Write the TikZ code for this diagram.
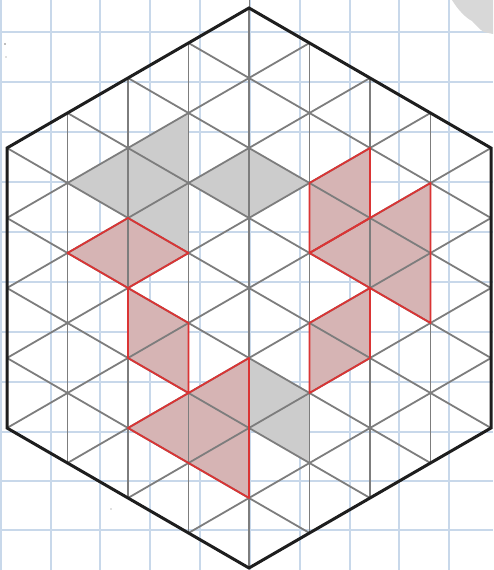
\documentclass[tikz,border=0pt]{standalone}
\definecolor{paperblue}{RGB}{200,216,234}
\definecolor{gridgrey}{RGB}{125,125,125}
\definecolor{shadegrey}{RGB}{204,204,204}
\definecolor{shadepink}{RGB}{214,180,180}
\definecolor{edgered}{RGB}{218,52,52}
\definecolor{hexblack}{RGB}{30,30,30}
\definecolor{blobgrey}{RGB}{216,216,216}
\begin{document}
\begin{tikzpicture}[x=1pt,y=1pt,
  paper/.style={draw=paperblue, line width=2.8pt},
  gridline/.style={draw=gridgrey, line width=1.8pt},
  greyfill/.style={fill=shadegrey},
  pinkfill/.style={fill=shadepink},
  redline/.style={draw=edgered, line width=1.8pt, line join=round},
  hexline/.style={draw=hexblack, line width=3pt, line join=miter}]
\useasboundingbox (0,0) rectangle (493,570);
\fill[white] (0,0) rectangle (493,570);
% graph paper
\foreach \x in {1,51,100,150,200,250,300,350,399,449}
  \draw[paper] (\x,0) -- (\x,570);
\foreach \y in {538,488,438,388,338,288,238,188,138,89,40}
  \draw[paper] (0,\y) -- (493,\y);
% grey smudge top right
\fill[blobgrey] (452,570) .. controls (458,560) and (466,552) .. (472,549)
  .. controls (476,545) and (480,540) .. (484,538) -- (493,536) -- (493,570) -- cycle;
\fill[gridgrey] (5,526) circle (0.8);
\fill[gridgrey] (6,513) circle (0.6);
\fill[gridgrey] (111,61) circle (0.6);
\begin{scope}[shift={(249pt,282pt)}, x=60.5pt, y=35pt]
  % shaded grey
  \path[greyfill] (-1,5) -- (-3,3) -- (-1,1) -- cycle;
  \path[greyfill] (-1,3) -- (0,4) -- (1,3) -- (0,2) -- cycle;
  \path[greyfill] (0,-2) -- (1,-3) -- (1,-5) -- (0,-4) -- cycle;
  % shaded pink
  \path[pinkfill] (-3,1) -- (-2,2) -- (-1,1) -- (-2,0) -- cycle;
  \path[pinkfill] (-2,0) -- (-1,-1) -- (-1,-3) -- (-2,-2) -- cycle;
  \path[pinkfill] (0,-2) -- (-2,-4) -- (0,-6) -- cycle;
  \path[pinkfill] (1,3) -- (2,4) -- (2,2) -- (1,1) -- cycle;
  \path[pinkfill] (1,1) -- (3,3) -- (3,-1) -- cycle;
  \path[pinkfill] (2,0) -- (1,-1) -- (1,-3) -- (2,-2) -- cycle;
  % triangular grid
  \begin{scope}
    \clip (0,8) -- (-4,4) -- (-4,-4) -- (0,-8) -- (4,-4) -- (4,4) -- cycle;
    \foreach \a in {-3,...,3}
      \draw[gridline] (\a,-8) -- (\a,8);
    \foreach \c in {-14,-12,...,14} {
      \draw[gridline] (-4,{-4+\c}) -- (4,{4+\c});
      \draw[gridline] (-4,{4+\c}) -- (4,{-4+\c});
    }
  \end{scope}
  \draw[gridline, line width=1pt] (0,8) -- (0,8.25);
  % red outlines
  \draw[redline] (-3,1) -- (-2,2) -- (-1,1) -- (-2,0) -- cycle;
  \draw[redline] (-2,0) -- (-1,-1) -- (-1,-3) -- (-2,-2) -- cycle;
  \draw[redline] (0,-2) -- (-2,-4) -- (0,-6) -- cycle;
  \draw[redline] (1,3) -- (2,4) -- (2,2) -- (1,1) -- cycle;
  \draw[redline] (1,1) -- (3,3) -- (3,-1) -- cycle;
  \draw[redline] (2,0) -- (1,-1) -- (1,-3) -- (2,-2) -- cycle;
  % hexagon
  \draw[hexline] (0,8) -- (-4,4) -- (-4,-4) -- (0,-8) -- (4,-4) -- (4,4) -- cycle;
\end{scope}
\end{tikzpicture}
\end{document}
